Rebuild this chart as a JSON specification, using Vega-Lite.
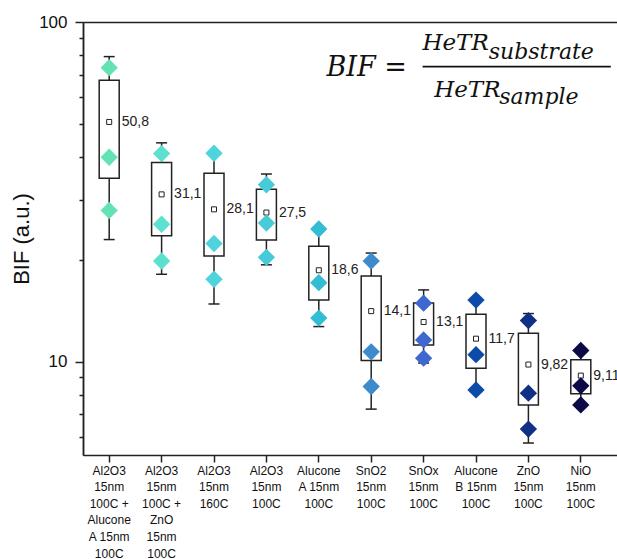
{
  "$schema": "https://vega.github.io/schema/vega-lite/v6.json",
  "width": 534,
  "height": 433,
  "autosize": {"type": "none"},
  "padding": {"left": 83, "top": 22, "right": 0, "bottom": 104},
  "background": "white",
  "config": {
    "view": {"stroke": null},
    "font": "Liberation Sans",
    "axis": {"domainColor": "#222", "domainWidth": 1.5, "tickColor": "#222", "tickWidth": 1.5, "labelColor": "#111", "titleColor": "#111", "grid": false}
  },
  "datasets": {
    "boxes": [
      {"cat": "Al2O3|15nm|100C +|Alucone|A 15nm|100C", "mean": 50.8, "label": "50,8", "q1": 34.7, "q3": 67.4, "lo": 22.9, "hi": 79.1},
      {"cat": "Al2O3|15nm|100C +|ZnO|15nm|100C", "mean": 31.1, "label": "31,1", "q1": 23.5, "q3": 38.6, "lo": 18.1, "hi": 44.1},
      {"cat": "Al2O3|15nm|160C", "mean": 28.1, "label": "28,1", "q1": 20.5, "q3": 35.9, "lo": 14.8, "hi": 41.4},
      {"cat": "Al2O3|15nm|100C", "mean": 27.5, "label": "27,5", "q1": 22.85, "q3": 32.2, "lo": 19.3, "hi": 35.7},
      {"cat": "Alucone|A 15nm|100C", "mean": 18.6, "label": "18,6", "q1": 15.2, "q3": 21.9, "lo": 12.7, "hi": 24.5},
      {"cat": "SnO2|15nm|100C", "mean": 14.1, "label": "14,1", "q1": 10.1, "q3": 17.9, "lo": 7.26, "hi": 20.9},
      {"cat": "SnOx|15nm|100C", "mean": 13.1, "label": "13,1", "q1": 11.2, "q3": 14.9, "lo": 9.92, "hi": 16.28},
      {"cat": "Alucone|B 15nm|100C", "mean": 11.7, "label": "11,7", "q1": 9.58, "q3": 13.8, "lo": 8.2, "hi": 15.2},
      {"cat": "ZnO|15nm|100C", "mean": 9.82, "label": "9,82", "q1": 7.47, "q3": 12.14, "lo": 5.77, "hi": 13.87},
      {"cat": "NiO|15nm|100C", "mean": 9.11, "label": "9,11", "q1": 8.05, "q3": 10.14, "lo": 7.47, "hi": 10.75}
    ],
    "points": [
      {"cat": "Al2O3|15nm|100C +|Alucone|A 15nm|100C", "v": 73.4},
      {"cat": "Al2O3|15nm|100C +|Alucone|A 15nm|100C", "v": 40.0},
      {"cat": "Al2O3|15nm|100C +|Alucone|A 15nm|100C", "v": 27.9},
      {"cat": "Al2O3|15nm|100C +|ZnO|15nm|100C", "v": 41.0},
      {"cat": "Al2O3|15nm|100C +|ZnO|15nm|100C", "v": 25.4},
      {"cat": "Al2O3|15nm|100C +|ZnO|15nm|100C", "v": 19.8},
      {"cat": "Al2O3|15nm|160C", "v": 41.1},
      {"cat": "Al2O3|15nm|160C", "v": 22.3},
      {"cat": "Al2O3|15nm|160C", "v": 17.5},
      {"cat": "Al2O3|15nm|100C", "v": 33.2},
      {"cat": "Al2O3|15nm|100C", "v": 25.6},
      {"cat": "Al2O3|15nm|100C", "v": 20.3},
      {"cat": "Alucone|A 15nm|100C", "v": 24.6},
      {"cat": "Alucone|A 15nm|100C", "v": 17.1},
      {"cat": "Alucone|A 15nm|100C", "v": 13.45},
      {"cat": "SnO2|15nm|100C", "v": 19.8},
      {"cat": "SnO2|15nm|100C", "v": 10.7},
      {"cat": "SnO2|15nm|100C", "v": 8.46},
      {"cat": "SnOx|15nm|100C", "v": 14.88},
      {"cat": "SnOx|15nm|100C", "v": 11.6},
      {"cat": "SnOx|15nm|100C", "v": 10.25},
      {"cat": "Alucone|B 15nm|100C", "v": 15.2},
      {"cat": "Alucone|B 15nm|100C", "v": 10.5},
      {"cat": "Alucone|B 15nm|100C", "v": 8.27},
      {"cat": "ZnO|15nm|100C", "v": 13.23},
      {"cat": "ZnO|15nm|100C", "v": 8.09},
      {"cat": "ZnO|15nm|100C", "v": 6.34},
      {"cat": "NiO|15nm|100C", "v": 10.8},
      {"cat": "NiO|15nm|100C", "v": 8.5},
      {"cat": "NiO|15nm|100C", "v": 7.47}
    ]
  },
  "layer": [
    {
      "data": {"name": "boxes"},
      "mark": {"type": "rule", "color": "#222", "strokeWidth": 1.5},
      "encoding": {
        "x": {
          "field": "cat", "type": "nominal",
          "scale": {
            "type": "band",
            "domain": ["Al2O3|15nm|100C +|Alucone|A 15nm|100C", "Al2O3|15nm|100C +|ZnO|15nm|100C", "Al2O3|15nm|160C", "Al2O3|15nm|100C", "Alucone|A 15nm|100C", "SnO2|15nm|100C", "SnOx|15nm|100C", "Alucone|B 15nm|100C", "ZnO|15nm|100C", "NiO|15nm|100C"],
            "paddingInner": 0, "paddingOuter": 0.0954, "align": 0
          },
          "axis": {"orient": "bottom", "title": null, "labelExpr": "split(datum.label, '|')", "labelFontSize": 12, "labelLineHeight": 16.6, "labelPadding": 3, "tickSize": 7, "labelOverlap": false, "labelAngle": 0, "labelBound": false, "labelFlush": false}
        },
        "y": {
          "field": "lo", "type": "quantitative",
          "scale": {"type": "log", "domain": [5.32, 100], "nice": false},
          "axis": {"orient": "left", "values": [10, 100], "format": "d", "tickSize": 8, "labelPadding": 8, "labelFontSize": 17, "title": "BIF (a.u.)", "titleFontSize": 22, "titleFontWeight": "normal", "titlePadding": 5}
        },
        "y2": {"field": "hi"}
      }
    },
    {
      "data": {"name": "boxes"},
      "transform": [{"fold": ["lo", "hi"], "as": ["k", "w"]}],
      "mark": {"type": "tick", "orient": "horizontal", "size": 11, "thickness": 1.5, "color": "#222", "opacity": 1},
      "encoding": {
        "x": {"field": "cat", "type": "nominal", "axis": {"orient": "top", "ticks": false, "labels": false, "title": null, "domain": true}},
        "y": {"field": "w", "type": "quantitative", "axis": {"orient": "left", "values": [6, 7, 8, 9, 20, 30, 40, 50, 60, 70, 80, 90], "tickSize": 4, "labels": false, "title": null}}
      }
    },
    {
      "data": {"name": "boxes"},
      "mark": {"type": "bar", "width": 20, "fill": "white", "stroke": "#222", "strokeWidth": 1.5},
      "encoding": {
        "x": {"field": "cat", "type": "nominal", "axis": null},
        "y": {"field": "q1", "type": "quantitative", "axis": null},
        "y2": {"field": "q3"}
      }
    },
    {
      "data": {"name": "boxes"},
      "mark": {"type": "square", "size": 25, "fill": "white", "stroke": "#222", "strokeWidth": 1, "opacity": 1},
      "encoding": {
        "x": {"field": "cat", "type": "nominal", "axis": null},
        "y": {"field": "mean", "type": "quantitative", "axis": null}
      }
    },
    {
      "data": {"name": "points"},
      "mark": {"type": "point", "shape": "diamond", "filled": true, "size": 300, "opacity": 1},
      "encoding": {
        "x": {"field": "cat", "type": "nominal", "axis": null},
        "y": {"field": "v", "type": "quantitative", "axis": null},
        "color": {
          "field": "cat", "type": "nominal", "legend": null,
          "scale": {
            "domain": ["Al2O3|15nm|100C +|Alucone|A 15nm|100C", "Al2O3|15nm|100C +|ZnO|15nm|100C", "Al2O3|15nm|160C", "Al2O3|15nm|100C", "Alucone|A 15nm|100C", "SnO2|15nm|100C", "SnOx|15nm|100C", "Alucone|B 15nm|100C", "ZnO|15nm|100C", "NiO|15nm|100C"],
            "range": ["#63E3B4", "#5CE0D0", "#4FD3DC", "#48CBD9", "#33BCD4", "#3D8BCB", "#3E68CF", "#0C4BAA", "#102F87", "#0B0A47"]
          }
        }
      }
    },
    {
      "data": {"name": "boxes"},
      "mark": {"type": "text", "align": "left", "baseline": "middle", "dx": 12.5, "fontSize": 14, "color": "#222"},
      "encoding": {
        "x": {"field": "cat", "type": "nominal", "axis": null},
        "y": {"field": "mean", "type": "quantitative", "axis": null},
        "text": {"field": "label"}
      }
    },
    {
      "data": {"values": [{"cat": "Alucone|A 15nm|100C", "v": 69.4, "t": "BIF ="}]},
      "mark": {"type": "text", "align": "left", "baseline": "alphabetic", "dx": 7.6, "font": "DejaVu Serif", "fontStyle": "italic", "fontSize": 27, "color": "#111"},
      "encoding": {
        "x": {"field": "cat", "type": "nominal", "axis": null},
        "y": {"field": "v", "type": "quantitative", "axis": null},
        "text": {"field": "t"}
      }
    },
    {
      "data": {"values": [{"cat": "SnOx|15nm|100C", "v": 82.7, "t": "HeTR"}]},
      "mark": {"type": "text", "align": "left", "baseline": "alphabetic", "dx": -1.2, "font": "DejaVu Serif", "fontStyle": "italic", "fontSize": 23, "color": "#111"},
      "encoding": {
        "x": {"field": "cat", "type": "nominal", "axis": null},
        "y": {"field": "v", "type": "quantitative", "axis": null},
        "text": {"field": "t"}
      }
    },
    {
      "data": {"values": [{"cat": "Alucone|B 15nm|100C", "v": 77.8, "t": "substrate"}]},
      "mark": {"type": "text", "align": "left", "baseline": "alphabetic", "dx": 12.7, "font": "DejaVu Serif", "fontStyle": "italic", "fontSize": 22, "color": "#111"},
      "encoding": {
        "x": {"field": "cat", "type": "nominal", "axis": null},
        "y": {"field": "v", "type": "quantitative", "axis": null},
        "text": {"field": "t"}
      }
    },
    {
      "data": {"values": [{"a": "SnOx|15nm|100C", "b": "NiO|15nm|100C", "v": 73.9}]},
      "mark": {"type": "rule", "color": "#111", "strokeWidth": 1.7, "xOffset": -1, "x2Offset": 30},
      "encoding": {
        "x": {"field": "a", "type": "nominal", "axis": null},
        "x2": {"field": "b"},
        "y": {"field": "v", "type": "quantitative", "axis": null}
      }
    },
    {
      "data": {"values": [{"cat": "SnOx|15nm|100C", "v": 60.0, "t": "HeTR"}]},
      "mark": {"type": "text", "align": "left", "baseline": "alphabetic", "dx": 10.6, "font": "DejaVu Serif", "fontStyle": "italic", "fontSize": 23, "color": "#111"},
      "encoding": {
        "x": {"field": "cat", "type": "nominal", "axis": null},
        "y": {"field": "v", "type": "quantitative", "axis": null},
        "text": {"field": "t"}
      }
    },
    {
      "data": {"values": [{"cat": "Alucone|B 15nm|100C", "v": 57.4, "t": "sample"}]},
      "mark": {"type": "text", "align": "left", "baseline": "alphabetic", "dx": 23.2, "font": "DejaVu Serif", "fontStyle": "italic", "fontSize": 22, "color": "#111"},
      "encoding": {
        "x": {"field": "cat", "type": "nominal", "axis": null},
        "y": {"field": "v", "type": "quantitative", "axis": null},
        "text": {"field": "t"}
      }
    }
  ],
  "resolve": {"axis": {"x": "independent", "y": "independent"}}
}
